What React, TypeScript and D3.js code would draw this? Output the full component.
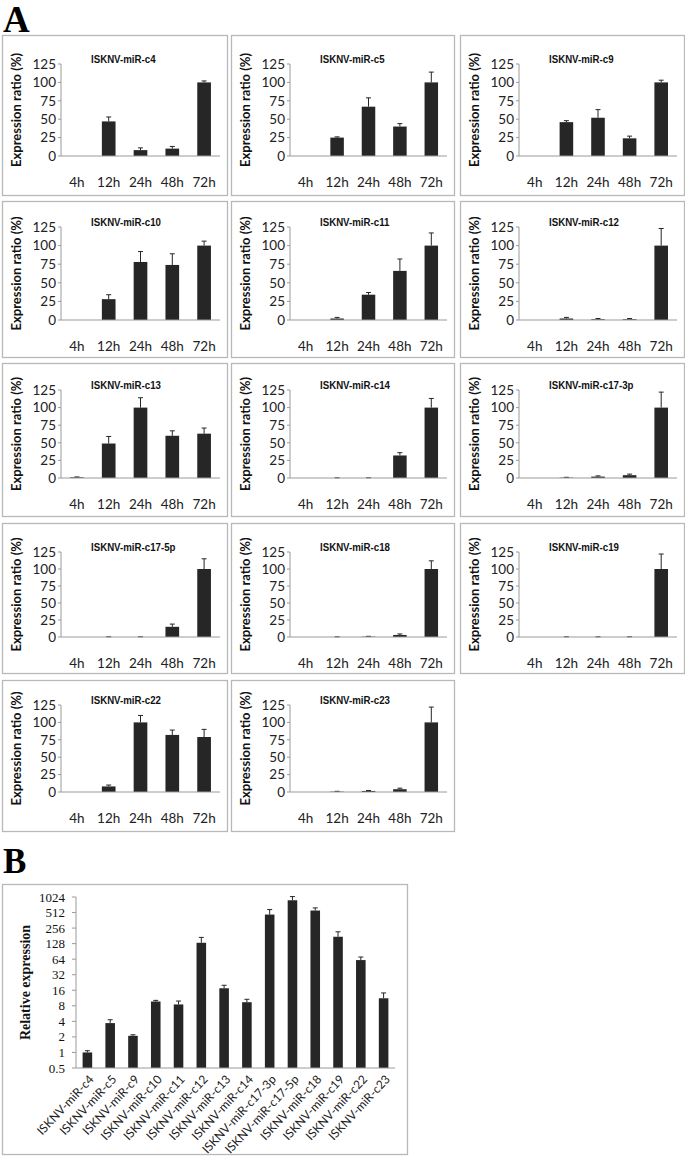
import React from 'react';
import * as d3 from 'd3';

// ---------- DATA ----------
const timePoints = ['4h', '12h', '24h', '48h', '72h'];

const mirNames = [
  'ISKNV-miR-c4', 'ISKNV-miR-c5', 'ISKNV-miR-c9',
  'ISKNV-miR-c10', 'ISKNV-miR-c11', 'ISKNV-miR-c12',
  'ISKNV-miR-c13', 'ISKNV-miR-c14', 'ISKNV-miR-c17-3p',
  'ISKNV-miR-c17-5p', 'ISKNV-miR-c18', 'ISKNV-miR-c19',
  'ISKNV-miR-c22', 'ISKNV-miR-c23',
];

const ratioMeans = [
  [0, 47, 8, 10, 100],
  [0, 25, 67, 40, 100],
  [0, 46, 52, 24, 100],
  [0, 28, 78, 74, 100],
  [0, 2, 34, 66, 100],
  [0, 2, 1, 1, 100],
  [1, 49, 100, 60, 63],
  [0, 0, 0, 32, 100],
  [0, 0.5, 2, 4, 100],
  [0, 0, 0, 15, 100],
  [0, 0, 0.5, 3, 100],
  [0, 0, 0, 0, 100],
  [0, 8, 100, 82, 79],
  [0, 0.5, 1.5, 4, 100],
];

const ratioErrors = [
  [0, 6, 3, 3, 2],
  [0, 1, 12, 4, 14],
  [0, 2, 11, 3, 3],
  [0, 6, 14, 15, 6],
  [0, 1.5, 3, 16, 17],
  [0, 1.5, 1, 1, 23],
  [0.5, 10, 14, 7, 8],
  [0, 0.3, 0.3, 4, 13],
  [0, 0.5, 1, 1.5, 22],
  [0, 0.3, 0.3, 4, 15],
  [0, 0.3, 0.5, 1.5, 12],
  [0, 0.3, 0.3, 0.3, 22],
  [0, 2, 10, 7, 11],
  [0, 0.5, 0.7, 1.5, 22],
];

const ratioTicks = [0, 25, 50, 75, 100, 125];

const relCategories = [
  'ISKNV-miR-c4', 'ISKNV-miR-c5', 'ISKNV-miR-c9', 'ISKNV-miR-c10',
  'ISKNV-miR-c11', 'ISKNV-miR-c12', 'ISKNV-miR-c13', 'ISKNV-miR-c14',
  'ISKNV-miR-c17-3p', 'ISKNV-miR-c17-5p', 'ISKNV-miR-c18', 'ISKNV-miR-c19',
  'ISKNV-miR-c22', 'ISKNV-miR-c23',
];
const relMeans = [1.0, 3.7, 2.1, 9.7, 8.5, 133, 17.5, 9.4, 468, 885, 560, 174, 61.5, 11.2];
const relUpper = [1.08, 4.3, 2.2, 10.2, 9.9, 169, 20, 10.7, 585, 1043, 630, 217, 70.5, 14.2];
const relTicks = [0.5, 1, 2, 4, 8, 16, 32, 64, 128, 256, 512, 1024];

// ---------- LAYOUT ----------
const colX = [2, 231, 460];
const colW = [225, 223, 224];
const rowTop = [35, 201, 363, 523, 680];
const rowBottom = [195, 357, 516, 673, 831];
const plotTopA = [64, 227, 390, 552, 705];
const plotBottomA = [156, 320, 478, 637, 792];

const BAR = '#262626';
const BORDER = '#b8b8b8';
const AXIS = '#9a9a9a';
const SANS = 'Lato, "Open Sans", sans-serif';
const ARIAL = '"Liberation Sans", Arial, sans-serif';
const SERIF = '"Liberation Serif", "Times New Roman", serif';

function SmallPanel({ i }: { i: number }) {
  const r = Math.floor(i / 3);
  const c = i % 3;
  const bx = colX[c];
  const bw = colW[c];
  const by = rowTop[r];
  const bh = rowBottom[r] - rowTop[r];
  const x0 = bx + 59;
  const x1 = bx + bw - 7;
  const x = d3.scaleBand<string>().domain(timePoints).range([x0, x1]).paddingInner(0.57).paddingOuter(0.285);
  const y = d3.scaleLinear().domain([0, 125]).range([plotBottomA[r], plotTopA[r]]);
  const means = ratioMeans[i];
  const errs = ratioErrors[i];
  const bwid = x.bandwidth();
  return (
    <g>
      <rect x={bx + 0.5} y={by + 0.5} width={bw} height={bh} fill="white" stroke={BORDER} strokeWidth={1.3} />
      <text
        transform={`translate(${bx + 89},${plotTopA[r] - 1}) scale(0.88,1)`}
        fontFamily={ARIAL}
        fontWeight="bold"
        fontSize={11}
        fill="#111"
      >
        {mirNames[i]}
      </text>
      {/* y axis */}
      <line x1={x0} x2={x0} y1={y(125)} y2={y(0)} stroke={AXIS} strokeWidth={1} />
      {ratioTicks.map((t) => (
        <g key={t}>
          <line x1={x0 - 3} x2={x0} y1={y(t)} y2={y(t)} stroke={AXIS} />
          <text x={x0 - 5} y={y(t)} dy="0.36em" textAnchor="end" fontFamily={SANS} fontSize={13.5} fill="#222">
            {t}
          </text>
        </g>
      ))}
      <text
        transform={`translate(${bx + 14},${(y(0) + y(125)) / 2}) rotate(-90)`}
        textAnchor="middle"
        dy="0.35em"
        fontFamily={SANS}
        fontWeight="bold"
        fontSize={13}
        fill="#111"
      >
        Expression ratio (%)
      </text>
      {/* bars */}
      {timePoints.map((tp, k) => {
        const bxp = x(tp)!;
        const v = means[k];
        const e = errs[k];
        const cx = bxp + bwid / 2;
        return (
          <g key={tp}>
            {v > 0 && <rect x={bxp} y={y(v)} width={bwid} height={y(0) - y(v)} fill={BAR} />}
            {e > 0 && (
              <g stroke={BAR} strokeWidth={1}>
                <line x1={cx} x2={cx} y1={y(v)} y2={y(v + e)} />
                <line x1={cx - 2.5} x2={cx + 2.5} y1={y(v + e)} y2={y(v + e)} />
              </g>
            )}
          </g>
        );
      })}
      <line x1={x0} x2={x1} y1={y(0)} y2={y(0)} stroke={AXIS} strokeWidth={1} />
      {timePoints.map((tp) => (
        <text key={tp} x={x(tp)! + bwid / 2} y={plotBottomA[r] + 31} textAnchor="middle" fontFamily={SANS} fontSize={13.5} fill="#222">
          {tp}
        </text>
      ))}
    </g>
  );
}

function PanelB() {
  const bx = 2, by = 884, bw = 405, bh = 270;
  const x0 = 76, x1 = 395;
  const yTop = 897, yBot = 1068;
  const x = d3.scaleBand<string>().domain(relCategories).range([x0, x1]).paddingInner(0.58).paddingOuter(0.29);
  const y = d3.scaleLog().base(2).domain([0.5, 1024]).range([yBot, yTop]);
  const bwid = x.bandwidth();
  return (
    <g>
      <rect x={bx + 0.5} y={by + 0.5} width={bw} height={bh} fill="white" stroke={BORDER} strokeWidth={1.3} />
      <line x1={x0} x2={x0} y1={yTop} y2={yBot} stroke={AXIS} />
      {relTicks.map((t) => (
        <g key={t}>
          <line x1={x0 - 4} x2={x0} y1={y(t)} y2={y(t)} stroke={AXIS} />
          <text x={x0 - 11} y={y(t)} dy="0.35em" textAnchor="end" fontFamily={SERIF} fontSize={13} fill="#111">
            {t}
          </text>
        </g>
      ))}
      <text
        transform={`translate(25,${(yTop + yBot) / 2}) rotate(-90)`}
        textAnchor="middle"
        dy="0.35em"
        fontFamily={SERIF}
        fontWeight="bold"
        fontSize={14}
        fill="#111"
      >
        Relative expression
      </text>
      {relCategories.map((cat, k) => {
        const xp = x(cat)!;
        const cx = xp + bwid / 2;
        const v = relMeans[k];
        const u = relUpper[k];
        return (
          <g key={cat}>
            <rect x={xp} y={y(v)} width={bwid} height={yBot - y(v)} fill={BAR} />
            <g stroke={BAR}>
              <line x1={cx} x2={cx} y1={y(v)} y2={y(u)} />
              <line x1={cx - 2.5} x2={cx + 2.5} y1={y(u)} y2={y(u)} />
            </g>
            <text
              transform={`translate(${cx + 4},${yBot + 9}) rotate(-47)`}
              textAnchor="end"
              dy="0.35em"
              fontFamily={SANS}
              fontSize={12}
              fill="#222"
            >
              {cat}
            </text>
          </g>
        );
      })}
      <line x1={x0} x2={x1} y1={yBot} y2={yBot} stroke={AXIS} />
    </g>
  );
}

export default function App() {
  return (
    <svg
      width={685}
      height={1156}
      viewBox="0 0 685 1156"
      style={{ position: 'absolute', left: 0, top: 0, background: 'white' }}
    >
      <rect x={0} y={0} width={685} height={1156} fill="white" />
      <text x={3} y={32} fontFamily={SERIF} fontWeight="bold" fontSize={37}>A</text>
      {mirNames.map((_, i) => (
        <SmallPanel key={i} i={i} />
      ))}
      <text x={3} y={873} fontFamily={SERIF} fontWeight="bold" fontSize={35}>B</text>
      <PanelB />
    </svg>
  );
}
